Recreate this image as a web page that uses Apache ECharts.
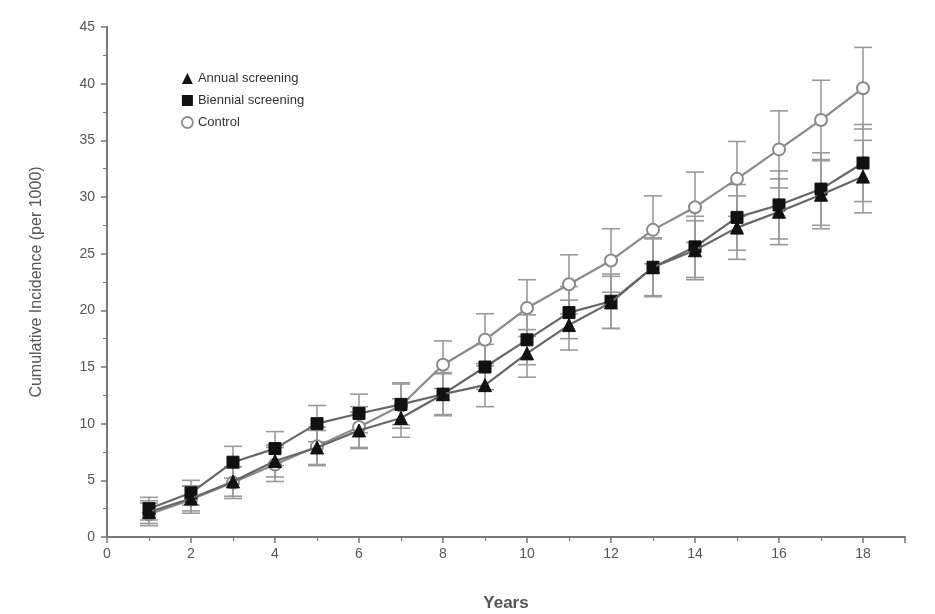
<!DOCTYPE html>
<html>
<head>
<meta charset="utf-8">
<script src="https://cdn.jsdelivr.net/npm/echarts@6/dist/echarts.min.js"></script>
<style>
    html, body { margin: 0; padding: 0; background: #fff; }
    #chart { width: 935px; height: 614px; }
</style>
</head>
<body>
<div id="chart"></div>
<script>
// values (per 1000)
const years = [1, 2, 3, 4, 5, 6, 7, 8, 9, 10, 11, 12, 13, 14, 15, 16, 17, 18];
const annual = [2.2, 3.4, 4.9, 6.7, 7.9, 9.4, 10.5, 12.6, 13.4, 16.2, 18.7, 20.7, 23.8, 25.3, 27.3, 28.7, 30.2, 31.8];
const biennial = [2.5, 3.9, 6.6, 7.8, 10.0, 10.9, 11.7, 12.6, 15.0, 17.4, 19.8, 20.8, 23.8, 25.6, 28.2, 29.3, 30.7, 33.0];
const control = [2.0, 3.3, 4.8, 6.4, 8.0, 9.7, 11.6, 15.2, 17.4, 20.2, 22.3, 24.4, 27.1, 29.1, 31.6, 34.2, 36.8, 39.6];
// error bar half widths
const annualErr = [1.0, 1.1, 1.3, 1.4, 1.5, 1.6, 1.7, 1.8, 1.9, 2.1, 2.2, 2.3, 2.5, 2.6, 2.8, 2.9, 3.0, 3.2];
const biennialErr = [1.0, 1.1, 1.4, 1.5, 1.6, 1.7, 1.8, 1.9, 2.0, 2.2, 2.3, 2.4, 2.6, 2.7, 2.9, 3.0, 3.2, 3.4];
const controlErr = [1.0, 1.2, 1.4, 1.5, 1.7, 1.8, 2.0, 2.1, 2.3, 2.5, 2.6, 2.8, 3.0, 3.1, 3.3, 3.4, 3.5, 3.6];
const seriesNames = ['Annual screening', 'Biennial screening', 'Control'];

const chart = echarts.init(document.getElementById('chart'));

function errData(vals, errs) {
    return years.map((y, i) => [y, vals[i] - errs[i], vals[i] + errs[i]]);
}

function errorBars(vals, errs) {
    return {
        type: 'custom',
        z: 1,
        silent: true,
        data: errData(vals, errs),
        renderItem: function (params, api) {
            const lo = api.coord([api.value(0), api.value(1)]);
            const hi = api.coord([api.value(0), api.value(2)]);
            const w = 9;
            const style = { stroke: '#9a9a9a', lineWidth: 1.6 };
            return {
                type: 'group',
                children: [
                    { type: 'line', shape: { x1: lo[0], y1: lo[1], x2: hi[0], y2: hi[1] }, style: style },
                    { type: 'line', shape: { x1: lo[0] - w, y1: lo[1], x2: lo[0] + w, y2: lo[1] }, style: style },
                    { type: 'line', shape: { x1: hi[0] - w, y1: hi[1], x2: hi[0] + w, y2: hi[1] }, style: style }
                ]
            };
        }
    };
}

function pairs(vals) {
    return years.map((y, i) => [y, vals[i]]);
}

const option = {
    backgroundColor: '#fff',
    animation: false,
    grid: { left: 107, right: 30, top: 27, bottom: 77, outerBoundsMode: 'none' },
    legend: {
        orient: 'vertical',
        left: 176,
        top: 67,
        itemWidth: 11,
        itemHeight: 11,
        itemGap: 9,
        textStyle: { fontFamily: 'Liberation Sans', fontSize: 13, color: '#333' },
        data: [
            { name: seriesNames[0], icon: 'triangle', itemStyle: { color: '#111' } },
            { name: seriesNames[1], icon: 'rect', itemStyle: { color: '#111' } },
            { name: seriesNames[2], icon: 'circle', itemStyle: { color: '#fff', borderColor: '#8a8a8a', borderWidth: 1.8 } }
        ]
    },
    xAxis: {
        type: 'value',
        min: 0,
        max: 19,
        interval: 2,
        name: 'Years',
        nameLocation: 'middle',
        nameGap: 58,
        nameTextStyle: { fontFamily: 'Liberation Sans', fontSize: 17, fontWeight: 'bold', color: '#555' },
        axisLine: { lineStyle: { color: '#777', width: 2 } },
        axisTick: { inside: false, length: 6, lineStyle: { color: '#777', width: 1.5 } },
        minorTick: { show: true, splitNumber: 2, length: 4, lineStyle: { color: '#777' } },
        axisLabel: {
            fontFamily: 'Liberation Sans', fontSize: 14, color: '#555', margin: 10,
            showMaxLabel: false
        },
        splitLine: { show: false }
    },
    yAxis: {
        type: 'value',
        min: 0,
        max: 45,
        interval: 5,
        name: 'Cumulative Incidence (per 1000)',
        nameLocation: 'middle',
        nameGap: 62,
        nameTextStyle: { fontFamily: 'Liberation Sans', fontSize: 16, color: '#555' },
        axisLine: { show: true, lineStyle: { color: '#777', width: 2 } },
        axisTick: { show: true, inside: false, length: 6, lineStyle: { color: '#777', width: 1.5 } },
        minorTick: { show: true, splitNumber: 2, length: 4, lineStyle: { color: '#777' } },
        axisLabel: { fontFamily: 'Liberation Sans', fontSize: 14, color: '#555', margin: 12 },
        splitLine: { show: false }
    },
    series: [
        errorBars(control, controlErr),
        errorBars(biennial, biennialErr),
        errorBars(annual, annualErr),
        {
            name: seriesNames[2],
            type: 'line',
            z: 3,
            data: pairs(control),
            symbol: 'circle',
            symbolSize: 12,
            lineStyle: { color: '#8a8a8a', width: 2.2 },
            itemStyle: { color: '#fff', borderColor: '#8a8a8a', borderWidth: 2 }
        },
        {
            name: seriesNames[1],
            type: 'line',
            z: 4,
            data: pairs(biennial),
            symbol: 'rect',
            symbolSize: 12,
            lineStyle: { color: '#666', width: 2.2 },
            itemStyle: { color: '#111', borderColor: '#111' }
        },
        {
            name: seriesNames[0],
            type: 'line',
            z: 5,
            data: pairs(annual),
            symbol: 'triangle',
            symbolSize: 13,
            lineStyle: { color: '#666', width: 2.2 },
            itemStyle: { color: '#111', borderColor: '#111' }
        }
    ]
};

chart.setOption(option);
</script>
</body>
</html>
